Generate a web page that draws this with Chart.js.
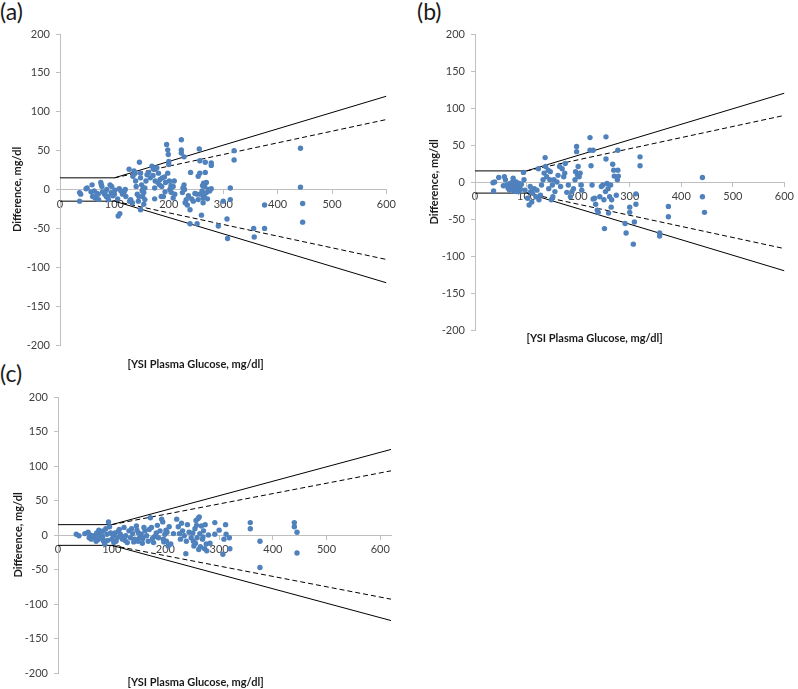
<!DOCTYPE html>
<html>
<head>
<meta charset="utf-8">
<title>Difference vs YSI plasma glucose</title>
<script src="https://cdn.jsdelivr.net/npm/chart.js@4.4.1/dist/chart.umd.min.js"></script>
<style>
  body { margin: 0; background: #fff; width: 798px; height: 689px; position: relative; overflow: hidden; font-family: Lato, "Liberation Sans", sans-serif; }
  canvas { position: absolute; }
  .tag { position: absolute; font-size: 23px; line-height: 1; color: #1a1a1a; }
</style>
</head>
<body>
<div class="tag" style="left:0;top:0">(a)</div>
<div class="tag" style="left:417px;top:0">(b)</div>
<div class="tag" style="left:0;top:362px">(c)</div>
<canvas id="chartA" width="400" height="372" style="left:0;top:0"></canvas>
<canvas id="chartB" width="398" height="350" style="left:400px;top:0"></canvas>
<canvas id="chartC" width="400" height="317" style="left:0;top:372px"></canvas>
<script>
// panel (a) points: YSI glucose vs difference
const aX = [36,36,38,48,50,57,59,60,63,65, 66,68,70,71,75,76,77,78,82,83, 85,86,88,89,92,94,95,97,100,101,
  106,107,109,110,112,115,118,120,121,127, 128,130,133,134,136,138,139,140,142,144, 145,146,148,148,148,150,151,152,152,154,
  154,156,156,158,160,163,166,169,171,172, 174,174,175,175,178,180,181,183,184,186, 187,188,190,192,193,194,196,198,198,199,
  200,200,201,202,204,204,205,206,208,208, 210,211,223,223,223,225,226,228,228,229, 230,232,234,236,239,239,240,242,245,248,
  252,252,254,254,256,257,257,258,260,261, 262,263,263,264,265,266,267,267,269,269, 271,273,275,278,278,278,291,300,307,308,
  313,313,320,320,356,357,376,376,442,442, 446,446];
const aY = [-4,-15,-6,1,2,-3,6,-9,-2,-11, -11,-5,-6,-13,9,6,4,-3,-6,-3, -9,0,-9,-13,6,-4,4,-8,-6,-1,
  -12,-34,1,-31,-2,-6,-3,0,-9,26, -15,-13,-17,17,24,21,11,4,-6,-15, -9,35,21,15,-26,6,-2,-9,0,-19,
  -4,2,-13,11,19,22,15,30,18,26, 2,-12,26,11,28,9,21,6,13,-9, 4,15,-9,16,-3,9,58,51,21,45,
  32,36,11,0,5,2,-4,4,4,-11, 11,-6,64,51,47,-4,2,6,42,0, -17,-13,-20,-8,-26,-44,22,-12,-15,-5,
  -44,-6,17,-13,52,37,21,-6,-33,-2, 5,-11,-17,8,-8,4,35,22,9,-4, -12,0,-2,34,31,1,-47,-15,-38,-63,
  2,-13,50,38,-50,-61,-20,-50,53,3, -18,-42];

// panel (b)
const bX = [35,36,38,46,55,57,59,62,64,66, 67,68,70,72,73,74,75,76,76,77, 78,79,80,80,81,82,83,84,85,86,
  87,88,90,94,95,97,102,105,107,108, 110,111,115,118,120,123,124,127,129,132, 134,136,137,139,142,143,145,146,148,150,
  151,153,155,159,161,164,166,169,172,174, 175,178,181,185,188,191,194,195,197,197, 199,200,202,204,206,207,223,223,225,227,
  229,229,232,234,237,239,242,245,248,250, 251,253,254,254,256,258,259,261,263,264, 265,267,269,270,274,276,277,278,277,291,
  293,300,300,307,309,312,312,320,320,358, 358,375,375,441,441,445];
const bY = [-1,-12,0,6,-5,7,3,-4,-8,-4, -11,-2,-6,-3,0,5,-7,-9,-12,-1, -3,-8,0,-13,-11,-4,-6,-9,-13,-2,
  -6,-10,-3,13,3,-11,-22,-31,-6,-13, -27,-15,-9,-20,-11,18,-24,-18,-4,3, 12,33,21,7,16,-9,3,14,-24,-4,
  -20,3,-13,0,9,21,-6,18,7,12, 25,-14,-4,-20,-13,-9,3,14,48,41, 9,21,7,12,-4,-11,60,43,22,-4,
  43,-23,-22,-30,-38,-41,-20,-6,-4,-24, -63,-13,61,31,-2,-9,-42,-20,-4,-34, -24,24,16,8,-18,3,16,8,43,-56,
  -69,-34,-41,-84,-54,-16,-30,34,22,-69, -73,-33,-47,6,-20,-41];

// panel (c)
const cX = [34,39,50,56,58,60,62,65,68,71, 72,74,75,76,78,80,81,83,84,85, 87,89,91,92,94,96,98,100,103,104,
  106,108,110,112,114,116,118,120,123,125, 126,129,132,135,137,139,141,143,146,147, 149,150,152,155,157,158,160,162,165,168,
  170,172,174,176,178,180,183,185,187,190, 193,195,196,197,199,201,202,203,205,207, 210,215,221,224,226,228,230,232,235,238,
  239,241,244,248,251,252,253,255,256,257, 258,259,261,262,263,264,265,267,269,270, 271,273,274,276,277,280,283,292,292,300,
  307,309,312,313,319,320,358,358,376,376, 440,440,445,445];
const cY = [1,-1,2,4,-4,0,-6,-1,-3,-9, 3,-7,0,7,-5,2,-1,-4,6,-9, -13,9,1,-8,19,12,3,-6,-1,-11,
  3,-9,-4,5,8,1,-3,-6,11,-8, -1,-11,6,-4,9,2,-10,-6,13,7, -9,3,-4,1,-12,-5,11,6,-1,-9,
  8,25,11,-5,-11,-2,3,14,-4,6, 23,19,-6,-10,1,7,-9,4,-16,12, -13,2,23,12,2,-6,17,6,-1,-27,
  -9,15,4,-4,3,-9,-16,9,-12,21, 14,-4,24,-21,26,2,-17,13,-6,-3, 6,-20,15,-13,-23,0,-12,18,1,7,
  -28,-6,15,1,-4,-20,18,9,-9,-47, 18,12,4,-26];

// accuracy limits (solid) and 15% lines (dashed)
const limitX = [0, 100, 600];
const limitHi = [15, 15, 120];
const limitLo = [-15, -15, -120];
const pctX = [100, 600];
const pctHi = [15, 90];
const pctLo = [-15, -90];
const limitXc = [0, 100, 620];
const limitHiC = [15, 15, 124];
const limitLoC = [-15, -15, -124];
const pctXc = [100, 620];
const pctHiC = [15, 93];
const pctLoC = [-15, -93];

const dotBlue = '#4f81bd';
const axisGrey = '#bfbfbf';
const textCol = '#404040';
const tickFont = { family: 'Lato', size: 11 };
const titleFont = { family: 'Lato', size: 11, weight: 'bold' };

function pts(xs, ys) {
  return xs.map((x, i) => ({ x: x, y: ys[i] }));
}

function lineSet(xs, ys, dashed) {
  return {
    data: pts(xs, ys),
    showLine: true,
    borderColor: '#000',
    borderWidth: 1,
    borderDash: dashed ? [5, 3] : [],
    pointRadius: 0,
    fill: false
  };
}

function makePanel(id, xs, ys, lim, box) {
  const config = {
    type: 'scatter',
    data: {
      datasets: [
        { data: pts(xs, ys), backgroundColor: dotBlue, borderColor: dotBlue, pointRadius: 2.7, borderWidth: 0 },
        lineSet(lim.sx, lim.hi, false),
        lineSet(lim.sx, lim.lo, false),
        lineSet(lim.px, lim.phi, true),
        lineSet(lim.px, lim.plo, true)
      ]
    },
    options: {
      responsive: false,
      animation: false,
      devicePixelRatio: 1,
      layout: { padding: { left: 0, top: box.top, right: box.right, bottom: box.bottom } },
      scales: {
        x: {
          type: 'linear',
          min: 0,
          max: lim.xMax,
          position: { y: 0 },
          ticks: { stepSize: 100, includeBounds: false, padding: 4, color: textCol, font: tickFont, maxRotation: 0 },
          grid: { drawOnChartArea: false, tickLength: 4, color: axisGrey },
          border: { color: axisGrey }
        },
        y: {
          type: 'linear',
          min: -200,
          max: 200,
          ticks: { stepSize: 50, padding: 6, color: textCol, font: tickFont },
          grid: { drawOnChartArea: false, tickLength: 4, color: axisGrey },
          border: { color: axisGrey },
          title: { display: true, text: 'Difference, mg/dl', color: '#1a1a1a', font: titleFont, padding: { top: box.yTitle, bottom: 0 } },
          afterFit: function (scale) { scale.width = box.left; }
        }
      },
      plugins: {
        legend: { display: false },
        tooltip: { enabled: false },
        title: {
          display: true,
          position: 'bottom',
          text: '[YSI Plasma Glucose, mg/dl]',
          color: '#1a1a1a',
          font: titleFont,
          padding: { top: box.xTitle, bottom: box.xTitleBottom }
        }
      }
    }
  };
  return new Chart(document.getElementById(id), config);
}

const limits = { sx: limitX, hi: limitHi, lo: limitLo, px: pctX, phi: pctHi, plo: pctLo, xMax: 600 };
const limitsC = { sx: limitXc, hi: limitHiC, lo: limitLoC, px: pctXc, phi: pctHiC, plo: pctLoC, xMax: 620 };

makePanel('chartA', aX, aY, limits, { left: 60, top: 34, right: 9, bottom: 0.4, yTitle: 10.4, xTitle: 12.4, xTitleBottom: 1 });
makePanel('chartB', bX, bY, limits, { left: 75, top: 34, right: 9, bottom: 3.4, yTitle: 27.4, xTitle: 1.4, xTitleBottom: 2 });
makePanel('chartC', cX, cY, limitsC, { left: 58, top: 25, right: 9, bottom: 0.4, yTitle: 11.4, xTitle: 2.4, xTitleBottom: 0 });
</script>
</body>
</html>
